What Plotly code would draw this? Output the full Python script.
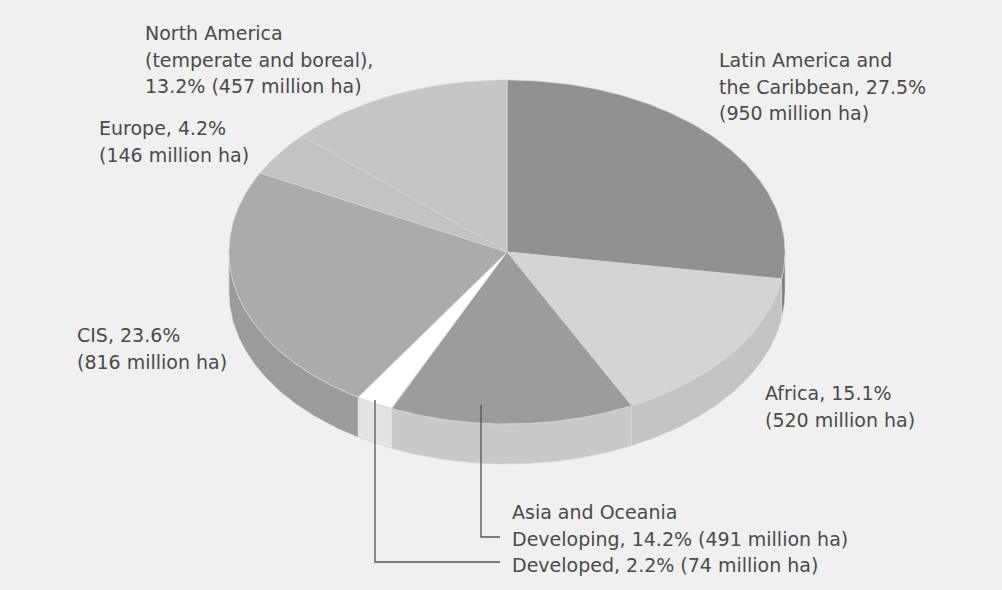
import numpy as np
import plotly.graph_objects as go

# ---------------- data ----------------
regions = [
    "Latin America and the Caribbean",
    "Africa",
    "Asia and Oceania - Developing",
    "Asia and Oceania - Developed",
    "CIS",
    "Europe",
    "North America (temperate and boreal)",
]
shares = [27.5, 15.1, 14.2, 2.2, 23.6, 4.2, 13.2]          # percent
areas_mha = [950, 520, 491, 74, 816, 146, 457]            # million ha

# ---------------- styles ----------------
top_colors = ["#909193", "#d4d4d4", "#9c9c9c", "#ffffff", "#ababab", "#c3c3c3", "#c6c6c6"]
side_colors = ["#7c7d7f", "#c4c4c4", "#c9c9c9", "#e3e3e3", "#9b9b9b", "#b0b0b0", "#b8b8b8"]
text_color = "#4a4a4a"
bg = "#f0f0f0"
FONT = "DejaVu Sans"
FS = 19

W, H = 1002, 590
cx, cy, rx, ry, depth = 507, 252, 278, 172, 40

fig = go.Figure()

total = sum(shares)
bounds = np.concatenate([[0], np.cumsum(shares)]) / total * 360.0


def pt(theta_deg, dy=0.0):
    t = np.radians(theta_deg)
    return cx + rx * np.sin(t), cy - ry * np.cos(t) + dy


# side walls (only front half, 90..270 deg clockwise from top)
for i in range(len(shares)):
    a, b = bounds[i], bounds[i + 1]
    lo, hi = max(a, 90.0), min(b, 270.0)
    if hi <= lo:
        continue
    th = np.linspace(lo, hi, 80)
    xs_top, ys_top = pt(th)
    xs_bot, ys_bot = pt(th[::-1], depth)
    xs = np.concatenate([xs_top, xs_bot, xs_top[:1]])
    ys = np.concatenate([ys_top, ys_bot, ys_top[:1]])
    fig.add_trace(go.Scatter(x=xs, y=ys, mode="lines", fill="toself",
                             fillcolor=side_colors[i],
                             line=dict(color="#d8d8d8", width=0.6),
                             hoverinfo="skip", showlegend=False))

# top faces
for i in range(len(shares)):
    a, b = bounds[i], bounds[i + 1]
    th = np.linspace(a, b, 120)
    xs_arc, ys_arc = pt(th)
    xs = np.concatenate([[cx], xs_arc, [cx]])
    ys = np.concatenate([[cy], ys_arc, [cy]])
    fig.add_trace(go.Scatter(x=xs, y=ys, mode="lines", fill="toself",
                             fillcolor=top_colors[i],
                             line=dict(color="#d6d6d6", width=0.7),
                             name=regions[i],
                             hoverinfo="skip", showlegend=False))

# ---------------- labels ----------------
def pct(v):
    return f"{v:.1f}%"

label_blocks = [
    # (left x, first line y, lines)
    (717, 60, ["Latin America and",
               f"the Caribbean, {pct(shares[0])}",
               f"({areas_mha[0]} million ha)"]),
    (763, 393, [f"Africa, {pct(shares[1])}",
                f"({areas_mha[1]} million ha)"]),
    (510, 512, ["Asia and Oceania",
                f"Developing, {pct(shares[2])} ({areas_mha[2]} million ha)",
                f"Developed, {pct(shares[3])} ({areas_mha[3]} million ha)"]),
    (75, 335, [f"CIS, {pct(shares[4])}",
               f"({areas_mha[4]} million ha)"]),
    (97, 128, [f"Europe, {pct(shares[5])}",
               f"({areas_mha[5]} million ha)"]),
    (143, 33, ["North America",
               "(temperate and boreal),",
               f"{pct(shares[6])} ({areas_mha[6]} million ha)"]),
]
LINE = 26.5
annotations = []
for x0, y0, lines in label_blocks:
    for k, line in enumerate(lines):
        annotations.append(dict(x=x0, y=y0 + k * LINE, xref="x", yref="y",
                                text=line, showarrow=False,
                                xanchor="left", yanchor="middle",
                                font=dict(family=FONT, size=FS, color=text_color)))

# leader lines for the two Asia and Oceania slices
leaders = [
    ([481, 481, 500], [405, 537, 537]),
    ([375, 375, 500], [400, 562, 562]),
]
for lx, ly in leaders:
    fig.add_trace(go.Scatter(x=lx, y=ly, mode="lines",
                             line=dict(color="#555555", width=1.3),
                             hoverinfo="skip", showlegend=False))

fig.update_layout(
    width=W, height=H,
    margin=dict(l=0, r=0, t=0, b=0),
    paper_bgcolor=bg, plot_bgcolor=bg,
    xaxis=dict(range=[0, W], visible=False, fixedrange=True),
    yaxis=dict(range=[H, 0], visible=False, fixedrange=True),
    annotations=annotations,
    showlegend=False,
)

fig.write_html("out.html",
               config={"displayModeBar": False, "staticPlot": True},
               post_script="document.body.style.margin='0';document.body.style.padding='0';")
